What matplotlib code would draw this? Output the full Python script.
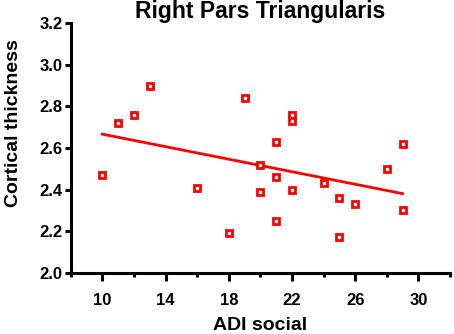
import numpy as np
import matplotlib
matplotlib.use('Agg')
import matplotlib.pyplot as plt

plt.rcParams['font.family'] = ['Liberation Sans', 'DejaVu Sans']

# ── Data ─────────────────────────────────────────────────────────────────────
adi_social = [10, 11, 12, 13, 16, 18, 19, 20, 20, 21, 21, 21,
              22, 22, 22, 24, 25, 25, 26, 28, 29, 29]
thickness  = [2.47, 2.72, 2.76, 2.90, 2.41, 2.19, 2.84, 2.52, 2.39, 2.63, 2.46, 2.25,
              2.76, 2.73, 2.40, 2.43, 2.36, 2.17, 2.33, 2.50, 2.62, 2.30]
x_major = [10, 14, 18, 22, 26, 30]
x_minor = [8, 12, 16, 20, 24, 28, 32]
y_ticks = [2.0, 2.2, 2.4, 2.6, 2.8, 3.0, 3.2]

x = np.array(adi_social, dtype=float)
y = np.array(thickness)
slope, icpt = np.polyfit(x, y, 1)
xf = np.array([x.min(), x.max()])

fig = plt.figure(figsize=(4.54, 3.34), dpi=100)
ax = fig.add_axes([0.156, 0.183, 0.835, 0.748])

ax.plot(xf, icpt + slope * xf, color='red', lw=2.0, zorder=2)
ax.plot(x, y, ls='none', marker='s', ms=3.7, mfc='white', mec='red', mew=2.0, zorder=3)

ax.set_xlim(8, 32)
ax.set_ylim(2.0, 3.2)
ax.set_xticks(x_major)
ax.set_xticks(x_minor, minor=True)
ax.set_yticks(y_ticks)
ax.set_yticklabels([f'{v:.1f}' for v in y_ticks])

for s in ['top', 'right']:
    ax.spines[s].set_visible(False)
for s in ['left', 'bottom']:
    ax.spines[s].set_linewidth(2.2)

ax.tick_params(axis='x', which='major', length=5.8, width=2.2, labelsize=12, pad=8.5)
ax.tick_params(axis='x', which='minor', length=3.2, width=2.2)
ax.tick_params(axis='y', which='major', length=4.5, width=2.2, labelsize=12, pad=1.5)
for lab in ax.get_xticklabels() + ax.get_yticklabels():
    lab.set_fontweight('bold')

ax.set_xlabel('ADI social', fontsize=14, fontweight='bold', labelpad=6.5)
ax.set_ylabel('Cortical thickness', fontsize=14, fontweight='bold')
ax.yaxis.set_label_coords(-0.129, 0.598)
ax.set_title('Right Pars Triangularis', fontsize=16.5, fontweight='bold', pad=3.6)

fig.savefig('out.png', dpi=100)
